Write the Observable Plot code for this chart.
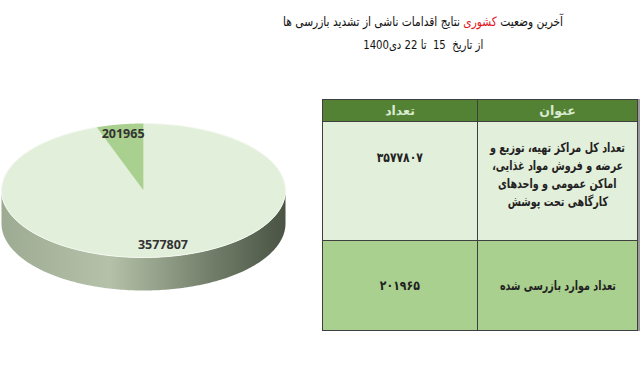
<!DOCTYPE html>
<html><head><meta charset="utf-8">
<script src="https://cdn.jsdelivr.net/npm/d3@7"></script>
<script src="https://cdn.jsdelivr.net/npm/@observablehq/plot@0.6"></script>
<style>
html,body{margin:0;padding:0;background:#fff;}
#wrap{position:relative;width:640px;height:367px;overflow:hidden;font-family:"DejaVu Sans","Noto Sans",sans-serif;}
#title{position:absolute;left:223px;top:10px;width:400px;text-align:center;direction:rtl;font-size:13px;line-height:23px;color:#111;}
#title .red{color:#e0151b;}
.fit{display:inline-block;white-space:nowrap;transform-origin:center center;}
#pie{position:absolute;left:0;top:0;}
#tbl{position:absolute;left:322px;top:99px;width:315px;border-collapse:collapse;table-layout:fixed;direction:rtl;font-weight:bold;color:#222;font-size:13px;box-shadow:2px 0 0 #9a9a9a;}
#tbl td,#tbl th{border:1.5px solid #3f3f3f;text-align:center;padding:0;white-space:nowrap;overflow:visible;box-sizing:border-box;}
#tbl th{background:#548235;color:#d9ead0;height:22px;font-size:12.5px;}
#tbl tr.r0 td{background:#e2efda;vertical-align:top;}
#tbl tr.r1 td{background:#a9d08e;height:90px;}
#tbl td.lab{line-height:18px;}
#tbl tr.r0 td.lab{padding-top:17px;height:119px;}
#tbl tr.r0 td.num{padding-top:27px;line-height:18px;height:119px;}
</style></head>
<body><div id="wrap">
<div id="title"></div>
<div id="pie"></div>
</div>
<script>
// ---- data ----
const titleLine1 = ["آخرین وضعیت ", "کشوری", " نتایج اقدامات ناشی از تشدید بازرسی ها"];
const titleLine2 = "از تاریخ  15  تا 22 دی1400";
const headers = ["عنوان", "تعداد"];
const categoryLines = [
  ["تعداد کل مراکز تهیه، توزیع و", "عرضه و فروش مواد غذایی،", "اماکن عمومی و واحدهای", "کارگاهی تحت پوشش"],
  ["تعداد موارد بازرسی شده"]
];
const values = [3577807, 201965];
const sliceColors = ["#e2efda", "#a9d08e"];

// ---- title ----
const t = document.getElementById("title");
t.innerHTML = '<span class="fit" data-w="280">' + titleLine1[0] + '<span class="red">' + titleLine1[1] + '</span>' + titleLine1[2] + '</span><br><span class="fit" data-w="120">' + titleLine2.replace(/ /g, "&nbsp;") + '</span>';

// ---- table ----
const fa = s => String(s).replace(/\d/g, d => "۰۱۲۳۴۵۶۷۸۹"[d]);
const tbl = document.createElement("table");
tbl.id = "tbl";
let html = "<colgroup><col style='width:160px'><col style='width:155px'></colgroup>";
html += "<tr><th>" + headers[0] + "</th><th>" + headers[1] + "</th></tr>";
categoryLines.forEach((lines, i) => {
  html += "<tr class='r" + i + "'><td class='lab'>" +
    lines.map(l => "<span class='fit lbl" + i + "'>" + l + "</span>").join("<br>") +
    "</td><td class='num'><span class='fit' data-w='" + (i === 0 ? 46 : 40) + "'>" + fa(values[i]) + "</span></td></tr>";
});
tbl.innerHTML = html;
document.getElementById("wrap").appendChild(tbl);

// scale text horizontally to the widths seen in the reference, keeping it centred
function fit(s, k) {
  const w = s.getBoundingClientRect().width;
  s.style.transform = "scaleX(" + k + ")";
  const m = (w * k - w) / 2;
  s.style.marginLeft = m + "px";
  s.style.marginRight = m + "px";
}
document.querySelectorAll(".fit[data-w]").forEach(s => fit(s, +s.dataset.w / s.getBoundingClientRect().width));
const l0 = [...document.querySelectorAll(".lbl0")];
const k0 = 135 / l0[0].getBoundingClientRect().width;
l0.forEach(s => fit(s, k0));
const l1 = document.querySelector(".lbl1");
fit(l1, 116 / l1.getBoundingClientRect().width);

// ---- pie ----
const arcs = d3.pie().sort(null)(values);
const N = 90;
const topFace = [];
arcs.forEach((a, i) => {
  topFace.push({slice: i, x: 0, y: 0});
  for (let k = 0; k <= N; k++) {
    const ang = a.startAngle + (a.endAngle - a.startAngle) * k / N;
    topFace.push({slice: i, x: Math.sin(ang), y: -Math.cos(ang)});
  }
});
const depth = 33 / 67;
const side = [];
for (let k = 0; k <= 180; k++) { const th = Math.PI * k / 180; side.push({x: Math.cos(th), y: Math.sin(th)}); }
for (let k = 180; k >= 0; k--) { const th = Math.PI * k / 180; side.push({x: Math.cos(th), y: Math.sin(th) + depth}); }
const labels = arcs.map((a, i) => {
  const m = (a.startAngle + a.endAngle) / 2;
  const r = i === 0 ? 0.82 : 0.86;
  return {x: Math.sin(m) * r, y: -Math.cos(m) * r, text: String(values[i])};
});

const defs = () => {
  const g = d3.create("svg:defs");
  const lg = g.append("linearGradient").attr("id", "sideGrad").attr("x1", 0).attr("x2", 1).attr("y1", 0).attr("y2", 0);
  [[0, "#9dab92"], [0.38, "#b5c2a9"], [0.72, "#75816c"], [1, "#4a5344"]].forEach(([o, c]) =>
    lg.append("stop").attr("offset", o).attr("stop-color", c));
  return g.node();
};

const chart = Plot.plot({
  width: 300, height: 367,
  margin: 0,
  x: {domain: [-1, 1], range: [1, 285], axis: null},
  y: {domain: [-1, 1], range: [123, 257], axis: null},
  marks: [
    defs,
    Plot.line(side, {x: "x", y: "y", fill: "url(#sideGrad)", stroke: "none", curve: "linear"}),
    Plot.line(topFace.filter(d => d.slice === 0), {x: "x", y: "y", fill: sliceColors[0], stroke: "#f4f9f0", strokeWidth: 1}),
    Plot.line(topFace.filter(d => d.slice === 1), {x: "x", y: "y", fill: sliceColors[1], stroke: "none"}),
    Plot.text(labels, {x: "x", y: "y", text: "text", fontSize: 12.5, fontWeight: "bold", fill: "#333", fontFamily: "Open Sans, sans-serif"})
  ]
});
document.getElementById("pie").appendChild(chart);
</script>
</body></html>
